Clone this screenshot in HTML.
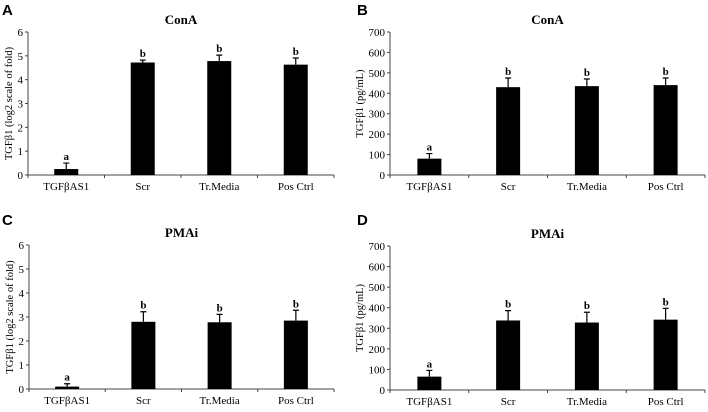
<!DOCTYPE html>
<html><head><meta charset="utf-8"><style>
body{margin:0;background:#fff;}
svg{display:block;}
text{font-family:"Liberation Serif",serif;fill:#000;}
.pl{font-family:"Liberation Sans",sans-serif;font-weight:bold;font-size:15px;}
</style></head><body>
<svg id="fig" width="708" height="412" viewBox="0 0 708 412"></svg>
<script>
const categories = ["TGF\u03b2AS1","Scr","Tr.Media","Pos Ctrl"];
const letters = ["a","b","b","b"];
const valuesA = [0.25,4.72,4.78,4.63];
const errorsA = [0.25,0.1,0.25,0.28];
const valuesB = [80,430,435,440];
const errorsB = [25,45,35,35];
const valuesC = [0.1,2.8,2.78,2.85];
const errorsC = [0.12,0.42,0.33,0.43];
const valuesD = [65,338,328,342];
const errorsD = [30,48,50,55];
const ticksFold = [0,1,2,3,4,5,6];
const ticksPg = [0,100,200,300,400,500,600,700];

const svg = document.getElementById('fig');
const NS = 'http://www.w3.org/2000/svg';
function mk(tag, attrs, parent){
  const e = document.createElementNS(NS, tag);
  for (const k in attrs) e.setAttribute(k, attrs[k]);
  (parent||svg).appendChild(e);
  return e;
}
function panel(id, letter, title, ytitle, vals, errs, ticks, ymax, x0, x1, yTop, yBot, lx, ly, ytOff){
  const g = mk('g', {});
  
  
  const yS = v => yBot - (v / ymax) * (yBot - yTop);
  const bw = (x1 - x0) / categories.length;
  const xC = i => x0 + bw * (i + 0.5);
  const pl = mk('text', {x: lx, y: ly, class: 'pl'}, g);
  pl.textContent = letter;
  
  
  const t = mk('text', {x: (x0 + x1) / 2, y: yTop - 8, 'text-anchor': 'middle', 'font-size': 13, 'font-weight': 'bold'}, g);
  t.textContent = title;
  
  
  const yt = mk('text', {transform: `translate(${x0 - ytOff},${(yTop + yBot) / 2}) rotate(-90)`, 'text-anchor': 'middle', 'font-size': 10.5}, g);
  yt.textContent = ytitle;
  
  
  const ya = mk('line', {x1: x0, x2: x0, y1: yTop, y2: yBot, stroke: '#444', 'stroke-width': 1}, g);
  
  
  const xa = mk('line', {x1: x0, x2: x1, y1: yBot, y2: yBot, stroke: '#444', 'stroke-width': 1}, g);
  
  
  ticks.forEach(v => {
    mk('line', {x1: x0 - 3, x2: x0, y1: yS(v), y2: yS(v), stroke: '#444'}, g);
    const tl = mk('text', {x: x0 - 5, y: yS(v) + 4, 'text-anchor': 'end', 'font-size': 11}, g);
    tl.textContent = v;
    
    
  });
  for (let i = 0; i <= categories.length; i++) {
    mk('line', {x1: x0 + bw * i, x2: x0 + bw * i, y1: yBot, y2: yBot + 3, stroke: '#444'}, g);
  }
  categories.forEach((c, i) => {
    const cx = xC(i);
    const b = mk('rect', {x: cx - 12, y: yS(vals[i]), width: 24, height: yBot - yS(vals[i]), fill: '#000'}, g);
    
    
    const top = yS(vals[i] + errs[i]);
    const e = mk('path', {d: `M${cx},${yS(vals[i])}V${top}M${cx - 3},${top}H${cx + 3}`, stroke: '#000', 'stroke-width': 1.2, fill: 'none'}, g);
    
    
    const l = mk('text', {x: cx, y: top - 3, 'text-anchor': 'middle', 'font-size': 11, 'font-weight': 'bold'}, g);
    l.textContent = letters[i];
    
    
    const xl = mk('text', {x: cx, y: yBot + 15, 'text-anchor': 'middle', 'font-size': 11}, g);
    xl.textContent = c;
    
    
  });
}
panel('a','A','ConA','TGF\u03b21 (log2 scale of fold)',valuesA,errorsA,ticksFold,6,28,334,32,175,2,15,16);
panel('b','B','ConA','TGF\u03b21 (pg/mL)',valuesB,errorsB,ticksPg,700,390,705,32,175,357,15,27);
panel('c','C','PMAi','TGF\u03b21 (log2 scale of fold)',valuesC,errorsC,ticksFold,6,29,334,245,389,2,225,16);
panel('d','D','PMAi','TGF\u03b21 (pg/mL)',valuesD,errorsD,ticksPg,700,390,705,246,390,357,225,27);
</script>
</body></html>
